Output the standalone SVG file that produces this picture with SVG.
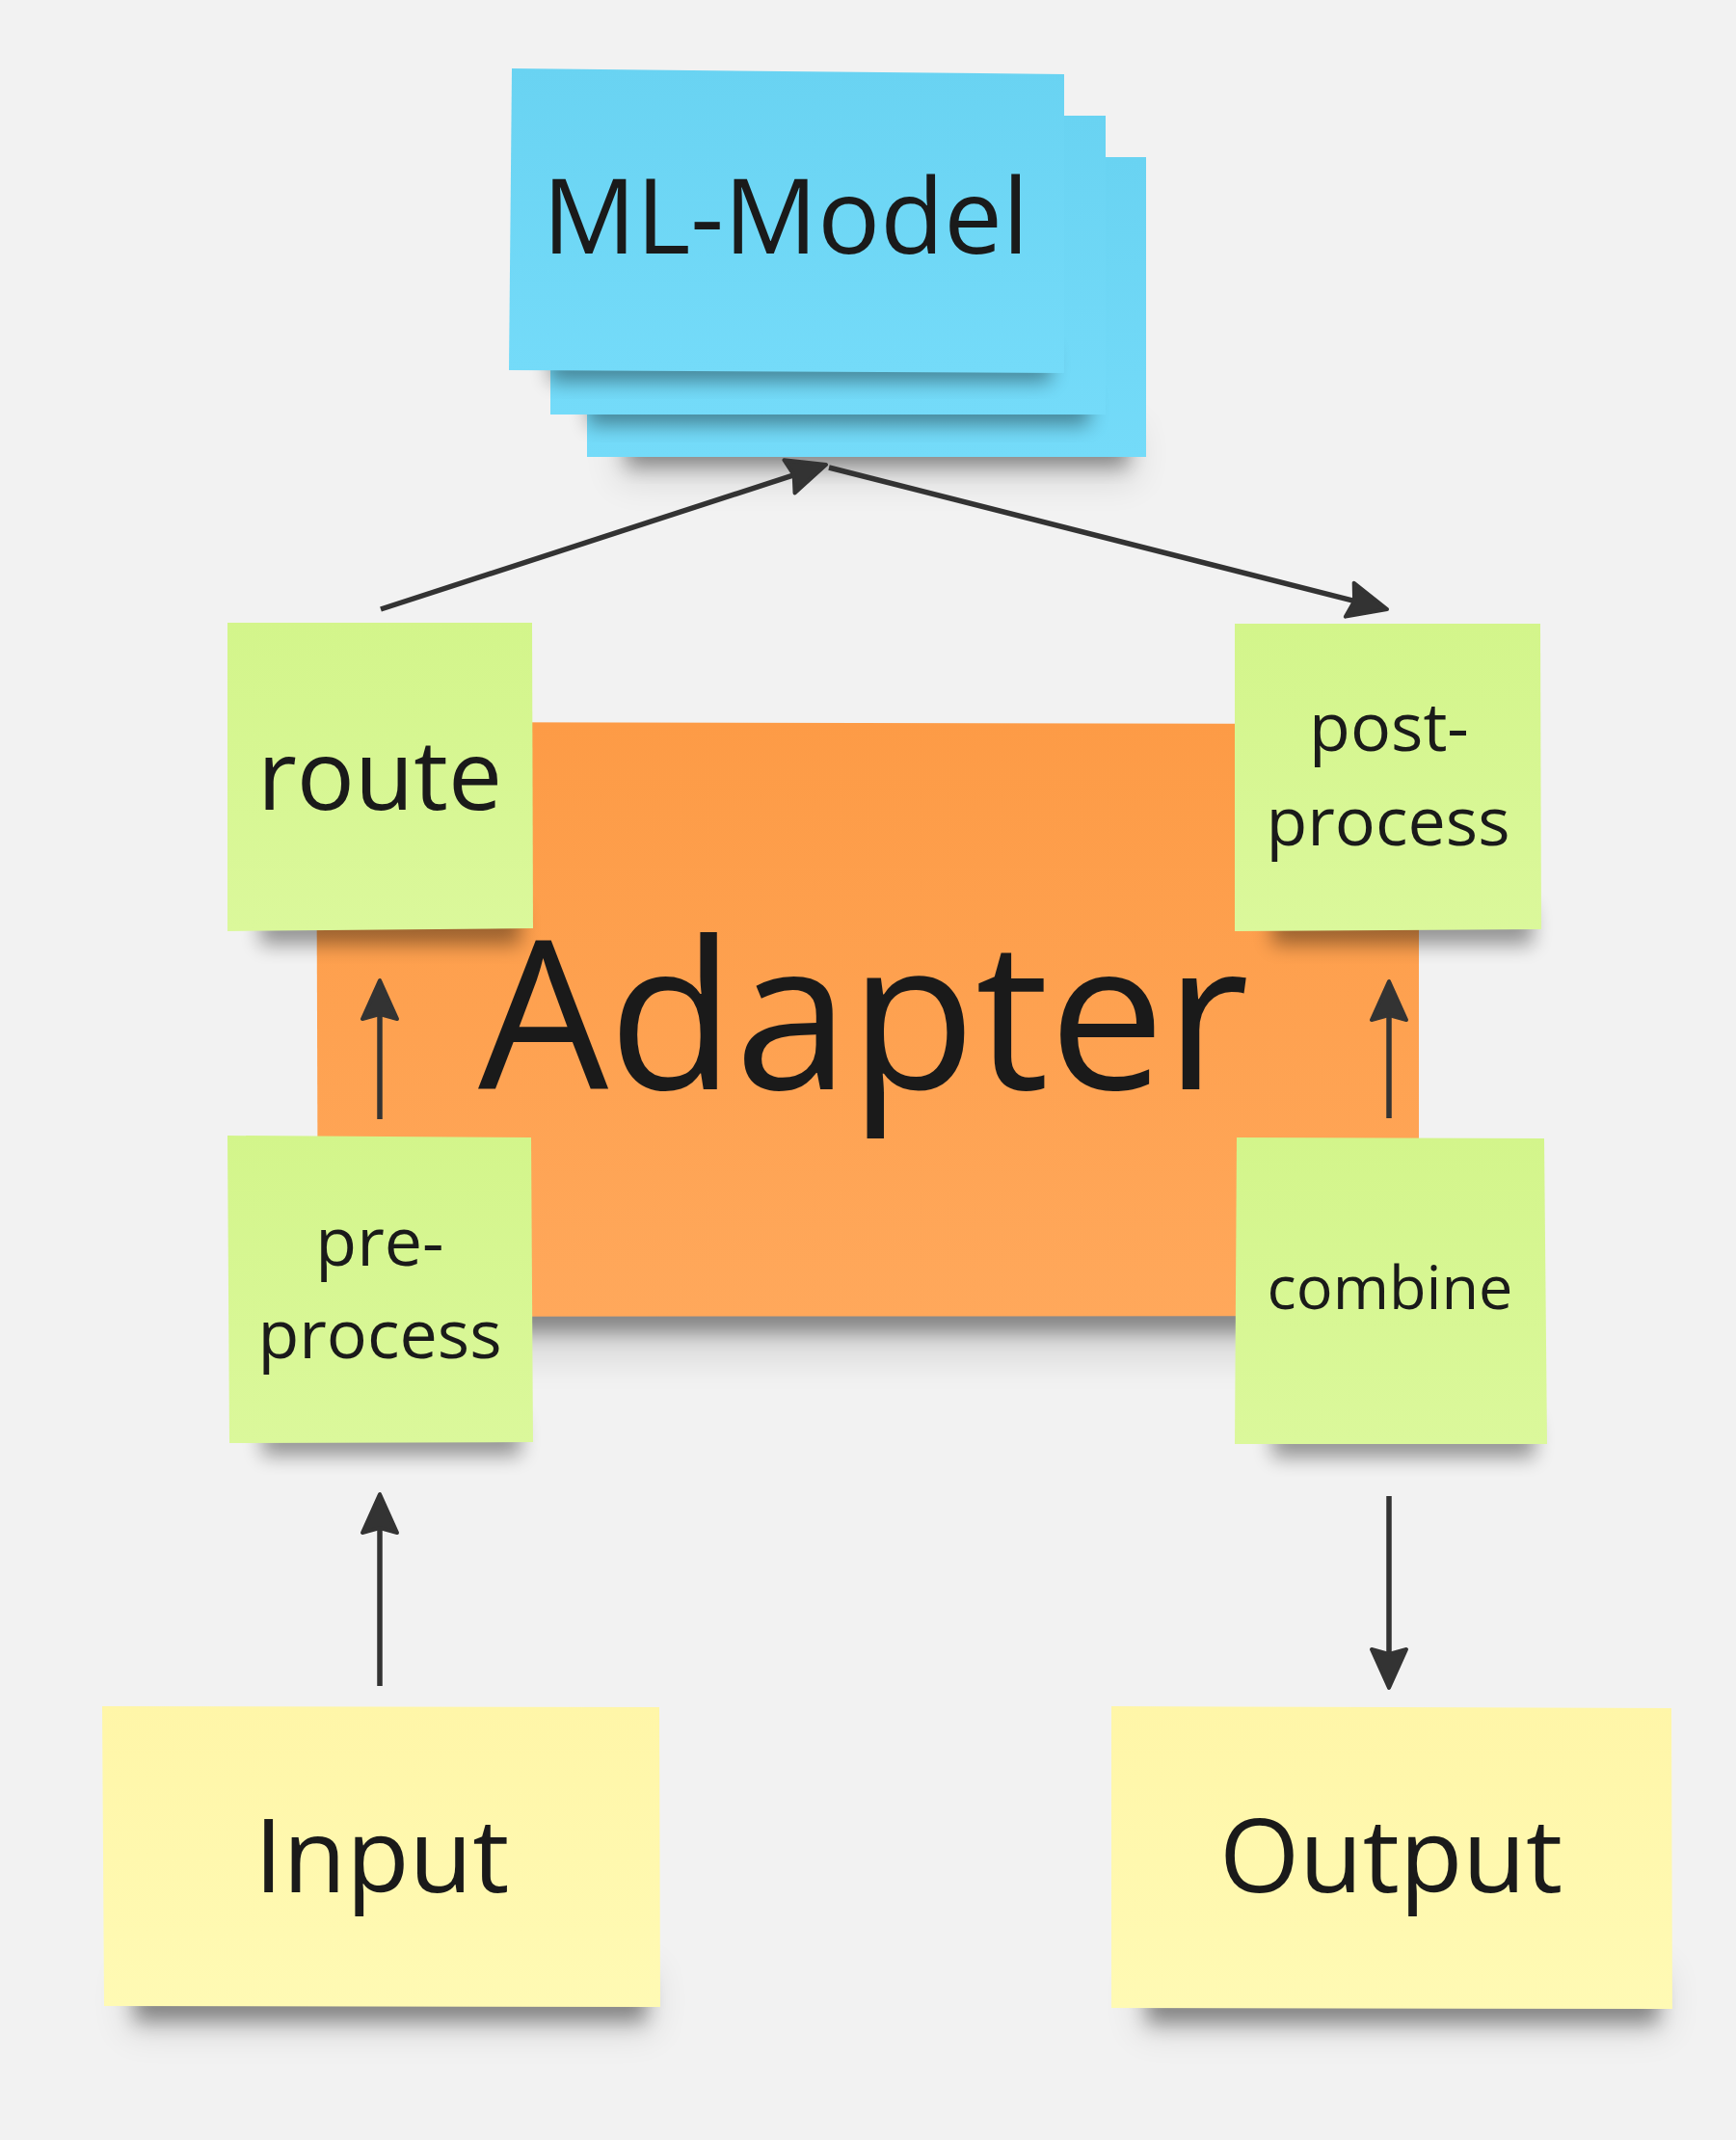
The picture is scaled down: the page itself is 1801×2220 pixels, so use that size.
<svg xmlns="http://www.w3.org/2000/svg" width="1801" height="2220" viewBox="0 0 1801 2220">
<defs>
<style>
.t{font-family:"Open Sans","Noto Sans","DejaVu Sans",sans-serif;fill:#1a1a1a;text-anchor:middle}
.ln{stroke:#333333;stroke-width:5.5;fill:none}
.sh{fill:#000000;opacity:0.38;filter:url(#blur)}
.sh2{fill:#000000;opacity:0.10;filter:url(#blur2)}
</style>
<filter id="blur" x="-20%" y="-50%" width="140%" height="200%"><feGaussianBlur stdDeviation="10"/></filter>
<filter id="blur2" x="-20%" y="-50%" width="140%" height="200%"><feGaussianBlur stdDeviation="18"/></filter>
<linearGradient id="gBlue" x1="0" y1="0" x2="0" y2="1"><stop offset="0" stop-color="#69d3f2"/><stop offset="1" stop-color="#74dbf9"/></linearGradient>
<linearGradient id="gGreen" x1="0" y1="0" x2="0" y2="1"><stop offset="0" stop-color="#d3f58b"/><stop offset="1" stop-color="#dbf89b"/></linearGradient>
<linearGradient id="gOrange" x1="0" y1="0" x2="0" y2="1"><stop offset="0" stop-color="#fd9b46"/><stop offset="1" stop-color="#ffa85b"/></linearGradient>
<linearGradient id="gYellow" x1="0" y1="0" x2="0" y2="1"><stop offset="0" stop-color="#fff6a8"/><stop offset="1" stop-color="#fffab4"/></linearGradient>
<marker id="ah" viewBox="-34 -24 50 48" refX="0" refY="0" markerWidth="50" markerHeight="48" markerUnits="userSpaceOnUse" orient="auto">
<path d="M12,0 L-28,-18 L-23,0 L-28,18 Z" fill="#333333" stroke="#333333" stroke-width="4" stroke-linejoin="round"/>
</marker>
</defs>
<rect width="1801" height="2220" fill="#f2f2f2"/>

<g id="ml-model">
<rect class="sh2" x="640" y="440" width="540" height="60"/>
<rect class="sh" x="650" y="448" width="520" height="36"/>
<rect x="609" y="163" width="580" height="311" fill="url(#gBlue)"/>
<rect class="sh" x="610" y="405" width="520" height="36"/>
<rect x="571" y="120" width="576" height="310" fill="url(#gBlue)"/>
<text class="t" x="842" y="307" font-size="110" style="fill:#000;opacity:0.035">ML-Model</text>
<rect class="sh" x="570" y="360" width="520" height="36"/>
<path d="M531,71 L1104,77 L1104,387 L528,384 Z" fill="url(#gBlue)"/>
<text class="t" x="815" y="263" font-size="108">ML-Model</text>
</g>

<g id="adapter">
<rect class="sh2" x="360" y="1330" width="1100" height="80"/>
<rect class="sh" x="380" y="1340" width="1060" height="42"/>
<path d="M328,749 L1472,751 L1472,1365 L330,1366 Z" fill="url(#gOrange)"/>
<text class="t" x="896" y="1130" font-size="214">Adapter</text>
</g>

<g id="route">
<rect class="sh" x="270" y="940" width="270" height="40"/>
<path d="M236,646 L552,646 L553,963 L236,966 Z" fill="url(#gGreen)"/>
<text class="t" x="394" y="840" font-size="100">route</text>
</g>

<g id="post-process">
<rect class="sh" x="1320" y="940" width="270" height="40"/>
<path d="M1281,647 L1598,647 L1599,964 L1281,966 Z" fill="url(#gGreen)"/>
<text class="t" x="1441" y="779" font-size="70">post-</text>
<text class="t" x="1440" y="877" font-size="70">process</text>
</g>

<g id="pre-process">
<rect class="sh" x="272" y="1470" width="268" height="40"/>
<path d="M236,1178 L551,1180 L553,1496 L238,1497 Z" fill="url(#gGreen)"/>
<text class="t" x="394" y="1313" font-size="70">pre-</text>
<text class="t" x="394" y="1409" font-size="70">process</text>
</g>

<g id="combine">
<rect class="sh" x="1320" y="1472" width="272" height="40"/>
<path d="M1283,1180 L1602,1181 L1605,1498 L1281,1498 Z" fill="url(#gGreen)"/>
<text class="t" x="1442" y="1358" font-size="63">combine</text>
</g>

<g id="input">
<rect class="sh2" x="130" y="2040" width="550" height="70"/>
<rect class="sh" x="140" y="2055" width="530" height="42"/>
<path d="M106,1770 L684,1771 L685,2082 L108,2081 Z" fill="url(#gYellow)"/>
<text class="t" x="396" y="1963" font-size="107">Input</text>
</g>

<g id="output">
<rect class="sh2" x="1180" y="2040" width="550" height="70"/>
<rect class="sh" x="1190" y="2057" width="530" height="42"/>
<path d="M1153,1770 L1734,1772 L1735,2084 L1153,2083 Z" fill="url(#gYellow)"/>
<text class="t" x="1443" y="1963" font-size="107">Output</text>
</g>

<g id="connectors">
<line class="ln" x1="395" y1="632" x2="845.6" y2="485.7" marker-end="url(#ah)"/>
<line class="ln" x1="860" y1="485" x2="1427.4" y2="629.1" marker-end="url(#ah)"/>
<line class="ln" x1="394" y1="1161" x2="394" y2="1029" marker-end="url(#ah)"/>
<line class="ln" x1="1441" y1="1160" x2="1441" y2="1030" marker-end="url(#ah)"/>
<line class="ln" x1="394" y1="1749" x2="394" y2="1562" marker-end="url(#ah)"/>
<line class="ln" x1="1441" y1="1552" x2="1441" y2="1739" marker-end="url(#ah)"/>
</g>
</svg>
